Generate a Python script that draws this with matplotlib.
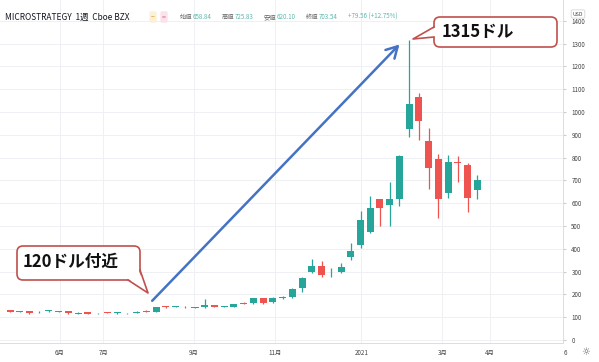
import numpy as np
import matplotlib
matplotlib.use('Agg')
import matplotlib.pyplot as plt
from matplotlib.patches import FancyBboxPatch, Polygon
from matplotlib.lines import Line2D
from matplotlib.transforms import Affine2D

plt.rcParams['font.family'] = ['Noto Sans CJK JP', 'DejaVu Sans']

# weekly candles, MSTR (Cboe BZX), late Apr 2020 .. Mar 2021
opens = [130, 124, 127, 121, 127, 125, 127, 115, 121, 117, 123, 118, 117, 118, 128, 123,
         147, 145, 146, 141, 145, 152, 146, 146, 163, 162, 184, 167, 184, 189, 228,
         298, 325, 297, 298, 364, 417, 474, 618, 592,
         618, 925, 1066, 873, 794, 645, 781, 768, 658.84]
highs = [132, 128, 129, 126, 130, 129, 129, 122, 123, 120, 125, 121, 119, 126, 130, 146,
         150, 148, 148, 145, 180, 155, 149, 160, 165, 186, 186, 187, 191, 226, 275,
         355, 346, 316, 338, 425, 566, 632, 620, 693,
         810, 1315, 1083, 930, 816, 811, 807, 776, 725.83]
lows = [122, 122, 115, 119, 125, 123, 116, 114, 113, 115, 118, 116, 115, 117, 122, 121,
        142, 143, 141, 139, 142, 144, 144, 144, 158, 160, 160, 164, 182, 186, 210,
        295, 276, 276, 295, 351, 404, 470, 500, 500,
        588, 890, 877, 662, 535, 623, 693, 561, 620.10]
closes = [124, 127, 117, 124, 128, 128, 118, 120, 115, 118, 120, 119, 118, 124, 124, 143,
          145, 146, 143, 143, 153, 147, 147, 158, 160, 184, 164, 184, 189, 224, 272,
          325, 285, 298, 320, 390, 526, 579, 579, 618,
          807, 1035, 960, 754, 618, 781, 776, 623.98, 703.54]
weeks = np.arange(len(opens))

month_pos = [5.1, 9.6, 18.9, 27.2, 36.1, 44.4, 49.3]
month_labels = ['6月', '7月', '9月', '11月', '2021', '3月', '4月']
price_ticks = np.arange(0, 1500, 100)

UP = '#26A69A'
DOWN = '#EF5350'

W, H = 599, 362
fig = plt.figure(figsize=(W / 100, H / 100), dpi=100)
pix = Affine2D().scale(1, -1).translate(0, H)  # pixel coords, origin top-left

ax = fig.add_axes([0, 19 / H, 563 / W, 343 / H])
ax.set_xlim(-1.03, 56.8)
ax.set_ylim(-13, 1491)

o = np.array(opens)
c = np.array(closes)
colors = [UP if cc >= oo else DOWN for oo, cc in zip(o, c)]
body_low = np.minimum(o, c)
body_h = np.maximum(np.abs(c - o), 3)
ax.vlines(weeks, lows, highs, colors=colors, lw=0.9, zorder=3)
ax.bar(weeks, body_h, bottom=body_low, width=0.72, color=colors, lw=0, zorder=4)

# grid / axes look
ax.set_yticks(price_ticks)
ax.set_xticks(month_pos)
ax.set_xticklabels(month_labels)
ax.grid(True, color='#EEF0F4', lw=0.7, zorder=0)
ax.yaxis.tick_right()
ax.tick_params(axis='y', length=2, color='#CCCCCC', labelsize=4.5, labelcolor='#444444', pad=4)
ax.tick_params(axis='x', length=0, labelsize=4.5, labelcolor='#444444', pad=4)
for s in ['top', 'left']:
    ax.spines[s].set_visible(False)
ax.spines['right'].set_color('#DADDE3')
ax.spines['bottom'].set_color('#DADDE3')
ax.spines['right'].set_linewidth(0.7)
ax.spines['bottom'].set_linewidth(0.7)

fig.text(565, 353, '6', transform=pix, fontsize=4.5, color='#444444', ha='center', va='center')
fig.text(586, 352, '☼', transform=pix, fontsize=7, color='#666666', ha='center', va='center')

# blue hand-drawn arrow
ax.annotate('', xy=(40.0, 1296), xytext=(14.6, 172),
            arrowprops=dict(arrowstyle='->,head_length=0.8,head_width=0.45',
                            color='#4472C4', lw=1.8, shrinkA=0, shrinkB=0), zorder=6)

# header
fig.text(5, 17, 'MICROSTRATEGY  1週  Cboe BZX', transform=pix, fontsize=6,
         color='#131722', va='center')
fig.text(153, 17, '−', transform=pix, fontsize=5, color='#F2A23C', va='center', ha='center',
         bbox=dict(boxstyle='round,pad=0.25', fc='#FDF0D8', ec='none'))
fig.text(164, 17, '=', transform=pix, fontsize=5, color='#E35D8A', va='center', ha='center',
         bbox=dict(boxstyle='round,pad=0.25', fc='#FBE3EA', ec='none'))
ohlc = [('始値', '658.84', 180), ('高値', '725.83', 222), ('安値', '620.10', 264), ('終値', '703.54', 306)]
for lab, val, xp in ohlc:
    fig.text(xp, 17, lab, transform=pix, fontsize=4.5, color='#666666', va='center')
    fig.text(xp + 13, 17, val, transform=pix, fontsize=4.5, color='#5DB8AE', va='center')
fig.text(348, 17, '+79.56 (+12.75%)', transform=pix, fontsize=4.5, color='#5DB8AE', va='center')
fig.text(578, 14, 'USD', transform=pix, fontsize=3.8, color='#444444', va='center', ha='center',
         bbox=dict(boxstyle='round,pad=0.3', fc='white', ec='#CCCCCC', lw=0.5), zorder=20)


def callout(x0, y0, x1, y1, line_pts, fill_pts, text, tx, ty):
    edge = '#C0504D'
    box = FancyBboxPatch((x0, y0), x1 - x0, y1 - y0, boxstyle='round,pad=0,rounding_size=6',
                         transform=pix, fc='white', ec=edge, lw=1.2, zorder=10)
    fig.add_artist(box)
    fig.add_artist(Polygon(fill_pts, closed=True, transform=pix, fc='white', ec='none', zorder=11))
    xs, ys = zip(*line_pts)
    fig.add_artist(Line2D(xs, ys, transform=pix, color=edge, lw=1.2, zorder=12))
    fig.text(tx, ty, text, transform=pix, fontsize=12, fontweight='bold', color='#111111',
             va='center', ha='left', zorder=13)


callout(434, 17, 557, 47,
        [(434, 27), (413, 39), (434, 37)],
        [(436, 27), (413, 39), (436, 37)],
        '1315ドル', 442, 32)
callout(17, 246, 140, 280,
        [(128, 280), (148, 293), (140, 270)],
        [(127, 278), (148, 293), (138, 269)],
        '120ドル付近', 23, 262)

fig.savefig('out.png', dpi=100)
